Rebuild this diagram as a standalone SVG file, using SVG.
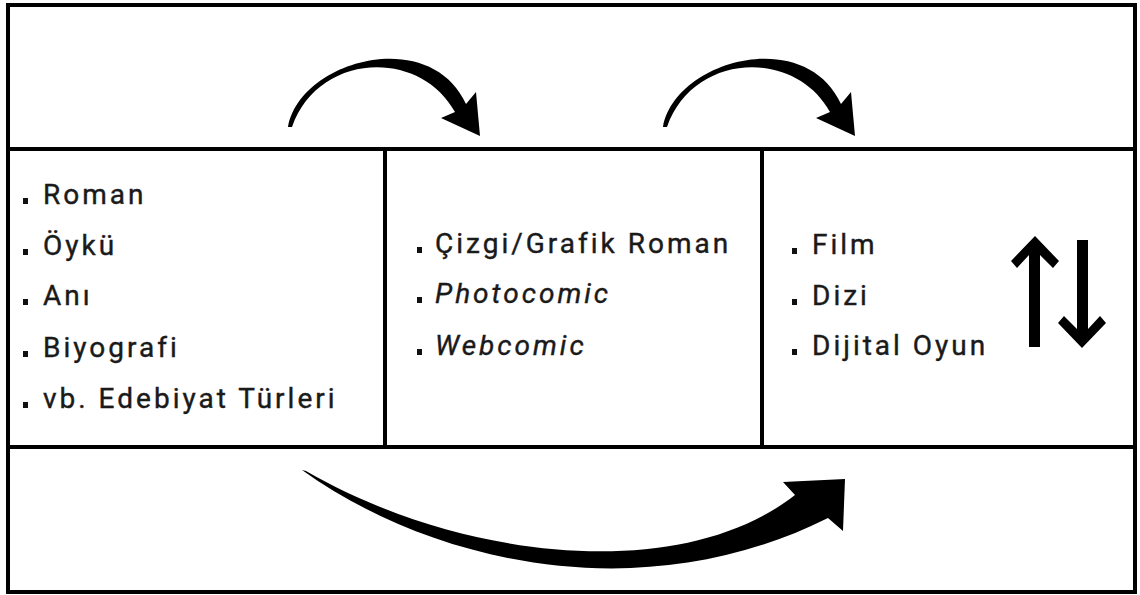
<svg xmlns="http://www.w3.org/2000/svg" width="1140" height="595" viewBox="0 0 1140 595">
<defs>
<style>
.frame{fill:none;stroke:#000;stroke-width:4}
.t{font-family:Roboto,"Liberation Sans",sans-serif;font-size:28px;font-weight:400;fill:#1a1a1a;stroke:#1a1a1a;stroke-width:0.4;letter-spacing:3px}
.i{font-style:italic}
.b{fill:#111}
.arr{fill:#000}
</style>
<path id="topArrow" d="M288,127 C300,60 430,25 466,104 L476,92 L480,136 L441,118 L455,112 C420,48 318,52 292,127 Z"/>
</defs>
<rect width="1140" height="595" fill="#fff"/>
<g id="frame">
<rect class="frame" x="8" y="5" width="1127" height="587"/>
<line class="frame" x1="8" y1="149" x2="1135" y2="149"/>
<line class="frame" x1="8" y1="447" x2="1135" y2="447"/>
<line class="frame" x1="385" y1="149" x2="385" y2="447"/>
<line class="frame" x1="762" y1="149" x2="762" y2="447"/>
</g>
<g id="node-literature">
<rect class="b" x="23" y="198" width="5" height="6"/><text class="t" x="43" y="204">Roman</text>
<rect class="b" x="23" y="249" width="5" height="6"/><text class="t" x="43" y="255">Öykü</text>
<rect class="b" x="23" y="299" width="5" height="6"/><text class="t" x="43" y="305">Anı</text>
<rect class="b" x="23" y="351" width="5" height="6"/><text class="t" x="43" y="357">Biyografi</text>
<rect class="b" x="23" y="402" width="5" height="6"/><text class="t" x="43" y="408">vb. Edebiyat Türleri</text>
</g>
<g id="node-comics">
<rect class="b" x="417" y="247" width="5" height="6"/><text class="t" x="435" y="253">Çizgi/Grafik Roman</text>
<rect class="b" x="417" y="297" width="5" height="6"/><text class="t i" x="435" y="303">Photocomic</text>
<rect class="b" x="417" y="349" width="5" height="6"/><text class="t i" x="435" y="355">Webcomic</text>
</g>
<g id="node-media">
<rect class="b" x="792" y="248" width="5" height="6"/><text class="t" x="812" y="254">Film</text>
<rect class="b" x="792" y="299" width="5" height="6"/><text class="t" x="812" y="305">Dizi</text>
<rect class="b" x="792" y="349" width="5" height="6"/><text class="t" x="812" y="355">Dijital Oyun</text>
<polygon class="arr" points="1035,236 1059,261 1053,268 1040,255 1040,347 1029,347 1029,255 1017,268 1011,261"/>
<polygon class="arr" points="1082,348 1058,323 1064,316 1077,329 1077,240 1088,240 1088,329 1100,316 1106,323"/>
</g>
<g id="connectors">
<use href="#topArrow" class="arr"/>
<use href="#topArrow" class="arr" transform="translate(375,0)"/>
<path class="arr" d="M302,470 C430,562 640,612 828,518 L843,531 L845,479 L783,482 L795,495 C680,585 460,560 306,471 Z"/>
</g>
</svg>
